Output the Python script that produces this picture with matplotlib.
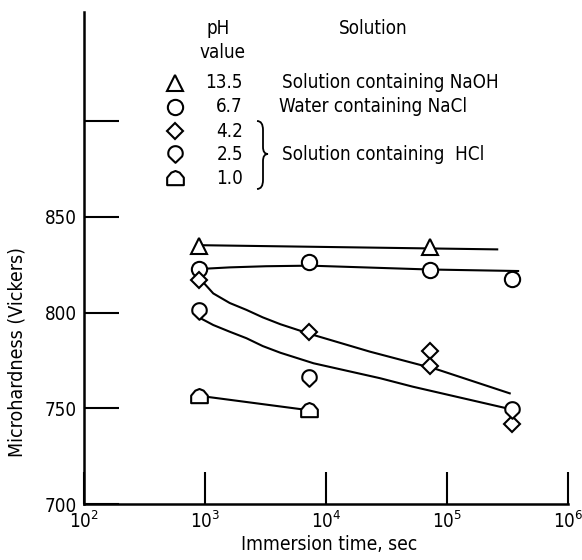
import matplotlib
matplotlib.use('Agg')
import matplotlib.pyplot as plt
import numpy as np
from matplotlib.path import Path
from matplotlib.patches import PathPatch

plt.rcParams['font.family'] = ['DejaVu Sans']
plt.rcParams['font.stretch'] = 'condensed'
plt.rcParams['mathtext.default'] = 'regular'

# measured points (immersion time in sec, Vickers hardness)
ph135_x = [900, 72000]
ph135_y = [835, 834]
ph67_x = [900, 7200, 72000, 345600]
ph67_y = [822.5, 826.5, 822, 817.5]
ph42_x = [900, 7200, 72000, 72000, 345600]
ph42_y = [817, 790, 780, 772, 742]
ph25_x = [900, 7200, 345600]
ph25_y = [801, 766, 749]
ph10_x = [900, 7200]
ph10_y = [756.5, 749]

# faired curves
fit135_x = [890, 260000]
fit135_y = [835.2, 833]
fit67_x = [930, 1600, 3200, 7400, 23000, 71000, 387000]
fit67_y = [822.8, 823.6, 824.2, 824.5, 823.5, 822.5, 821.7]
fit42_x = [930, 1170, 1600, 2200, 3000, 4200, 7400, 23000, 82000, 330000]
fit42_y = [817, 810, 805, 801.4, 797.5, 793.9, 788.8, 779.6, 770.4, 757.8]
fit25_x = [920, 1170, 1600, 2200, 3000, 4200, 7900, 28000, 52000, 311000]
fit25_y = [797, 793.5, 790, 786.6, 782.5, 779, 773.5, 765.7, 761.3, 750]

xticks = [1e2, 1e3, 1e4, 1e5, 1e6]
xticklabels = [r'$10^{2}$', r'$10^{3}$', r'$10^{4}$', r'$10^{5}$', r'$10^{6}$']
yticks = [700, 750, 800, 850, 900]
yticklabels = ['700', '750', '800', '850', '']

legend_ph = ['13.5', '6.7', '4.2', '2.5', '1.0']
legend_sol = ['Solution containing NaOH', 'Water containing NaCl', '', 'Solution containing  HCl', '']

# custom marker shapes
t = np.linspace(np.radians(-25), np.radians(205), 40)
drop_verts = list(zip(np.cos(t), 0.15 + np.sin(t))) + [(0, -1.15)]
drop = Path(drop_verts + [drop_verts[0]], [Path.MOVETO] + [Path.LINETO] * (len(drop_verts) - 1) + [Path.CLOSEPOLY])
house = Path([(-1, -0.8), (1, -0.8), (1, 0.1), (0.5, 0.7), (0, 0.9), (-0.5, 0.7), (-1, 0.1), (-1, -0.8)],
             [Path.MOVETO, Path.LINETO, Path.LINETO, Path.LINETO, Path.LINETO, Path.LINETO, Path.LINETO, Path.CLOSEPOLY])

W, H = 582, 560
fig = plt.figure(figsize=(W / 100, H / 100), dpi=100)
ax = fig.add_axes([84 / W, 56 / H, 484 / W, 492 / H])

lw = 1.5
ax.plot(fit135_x, fit135_y, color='black', lw=lw)
ax.plot(fit67_x, fit67_y, color='black', lw=lw)
ax.plot(fit42_x, fit42_y, color='black', lw=lw)
ax.plot(fit25_x, fit25_y, color='black', lw=lw)
ax.plot(ph10_x, ph10_y, color='black', lw=lw)

mk = dict(ls='none', mfc='white', mec='black', mew=1.5, zorder=3)
ax.plot(ph135_x, ph135_y, marker='^', ms=11, **mk)
ax.plot(ph67_x, ph67_y, marker='o', ms=11, **mk)
ax.plot(ph42_x, ph42_y, marker='D', ms=8.5, **mk)
ax.plot(ph25_x, ph25_y, marker=drop, ms=12, **mk)
ax.plot(ph10_x, ph10_y, marker=house, ms=12, **mk)

ax.set_xscale('log')
ax.set_xlim(1e2, 1e6)
ax.set_ylim(700, 957)
ax.set_xticks(xticks)
ax.set_xticklabels(xticklabels)
ax.minorticks_off()
ax.set_yticks(yticks)
ax.set_yticklabels(yticklabels)
ax.tick_params(axis='both', direction='in', width=1.5, labelsize=13.5)
ax.tick_params(axis='y', length=25, pad=5)
ax.tick_params(axis='x', length=23, pad=5)
for s in ['top', 'right']:
    ax.spines[s].set_visible(False)
for s in ['left', 'bottom']:
    ax.spines[s].set_linewidth(1.8)

ax.set_xlabel('Immersion time, sec', fontsize=13.8)
ax.set_ylabel('Microhardness (Vickers)', fontsize=14)
ax.xaxis.set_label_coords(0.506, -0.063)
ax.yaxis.set_label_coords(-0.118, 0.309)

# key drawn in figure pixel positions
def fx(px):
    return px / W

def fy(py):
    return 1 - py / H

fig.text(fx(218), fy(29), 'pH', ha='center', va='center', fontsize=13.5)
fig.text(fx(222), fy(52), 'value', ha='center', va='center', fontsize=13.5)
fig.text(fx(373), fy(29), 'Solution', ha='center', va='center', fontsize=13.5)

rows_y = [83, 107, 131, 154, 178]
markers = ['^', 'o', 'D', drop, house]
sizes = [11, 11, 8.5, 12, 12]
for i in range(5):
    fig.lines.append(plt.Line2D([fx(175)], [fy(rows_y[i])], transform=fig.transFigure,
                                marker=markers[i], ms=sizes[i], mfc='white', mec='black', mew=1.5, ls='none'))
    fig.text(fx(243), fy(rows_y[i]), legend_ph[i], ha='right', va='center', fontsize=13.5)
    if legend_sol[i]:
        fig.text(fx(282 if i != 1 else 279), fy(rows_y[i]), legend_sol[i], ha='left', va='center', fontsize=13.5)

# brace
bx = [257, 263, 263, 263, 263, 268, 263, 263, 263, 263, 257]
by = [121, 121, 130, 147, 154, 154, 154, 161, 180, 189, 189]
verts = [(fx(a), fy(b)) for a, b in zip(bx, by)]
codes = [Path.MOVETO, Path.CURVE3, Path.CURVE3, Path.LINETO, Path.CURVE3, Path.CURVE3,
         Path.CURVE3, Path.CURVE3, Path.LINETO, Path.CURVE3, Path.CURVE3]
fig.patches.append(PathPatch(Path(verts, codes), transform=fig.transFigure, fill=False, lw=1.3, ec='black'))

fig.savefig('out.png', dpi=100)
